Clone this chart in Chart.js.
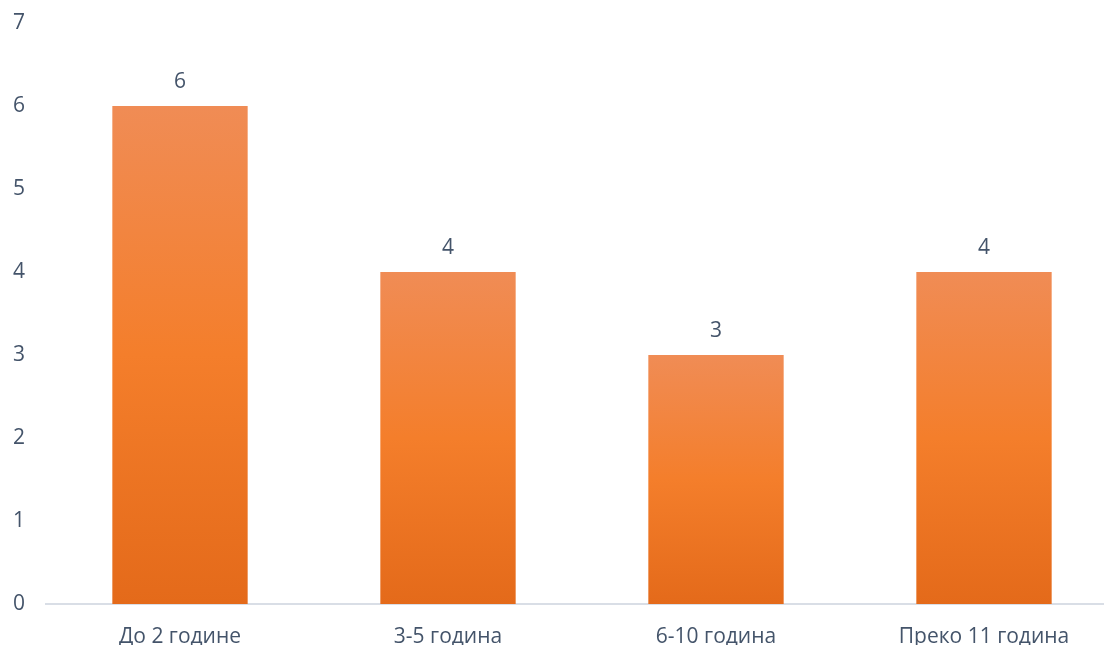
<!DOCTYPE html>
<html>
<head>
    <title>Радни стаж</title>
<script src="https://cdn.jsdelivr.net/npm/chart.js"></script>
<style>
    html, body { margin: 0; padding: 0; background: #fff; overflow: hidden; }
    #wrap { width: 1118px; height: 645px; }
</style>
</head>
<body>
    <div id="wrap"><canvas id="chart"></canvas></div>

    <script>
        const categories = ['До 2 године', '3-5 година', '6-10 година', 'Преко 11 година'];
        const values = [6, 4, 3, 4];
        const yTicks = [0, 1, 2, 3, 4, 5, 6, 7];

        const textColor = '#44546A';
        const fontFamily = '"Open Sans", "Noto Sans", sans-serif';

        // each bar gets its own top-to-bottom gradient
        function barFill(ctx) {
            const chart = ctx.chart;
            const y = chart.scales.y;
            if (!chart.chartArea || !y || ctx.type !== 'data') return '#F47E2B';
            const top = y.getPixelForValue(values[ctx.dataIndex]);
            const bottom = y.getPixelForValue(0);
            if (!isFinite(top) || !isFinite(bottom)) return '#F47E2B';
            const g = chart.ctx.createLinearGradient(0, top, 0, bottom);
            g.addColorStop(0, '#F08C55');
            g.addColorStop(0.5, '#F47E2B');
            g.addColorStop(1, '#E46A1A');
            return g;
        }

        // value labels above the bars
        const valueLabels = {
            id: 'valueLabels',
            afterDatasetsDraw(chart) {
                const c = chart.ctx;
                const meta = chart.getDatasetMeta(0);
                c.save();
                c.font = '21px ' + fontFamily;
                c.fillStyle = textColor;
                c.textAlign = 'center';
                c.textBaseline = 'middle';
                meta.data.forEach((bar, i) => {
                    c.fillText(String(values[i]), bar.x, bar.y - 24);
                });
                c.restore();
            }
        };

        new Chart(document.getElementById('chart'), {
            type: 'bar',
            data: {
                labels: categories,
                datasets: [{
                    data: values,
                    backgroundColor: barFill,
                    barPercentage: 1,
                    categoryPercentage: 0.505
                }]
            },
            options: {
                responsive: true,
                maintainAspectRatio: false,
                animation: false,
                layout: { padding: { top: 23, right: 0, bottom: 0, left: 0 } },
                plugins: {
                    legend: { display: false },
                    tooltip: { enabled: false }
                },
                scales: {
                    x: {
                        afterFit: s => { s.height = 41; },
                        grid: { display: false },
                        border: { display: true, color: '#D9DEE6', width: 2 },
                        ticks: {
                            color: textColor,
                            font: { family: fontFamily, size: 21 },
                            padding: 12
                        }
                    },
                    y: {
                        min: 0,
                        max: 7,
                        afterBuildTicks: s => { s.ticks = yTicks.map(v => ({ value: v })); },
                        afterFit: s => { s.width = 46; s.paddingTop = 0; s.paddingBottom = 0; },
                        grid: { display: false },
                        border: { display: false },
                        ticks: {
                            color: textColor,
                            font: { family: fontFamily, size: 21 },
                            padding: 13
                        }
                    }
                }
            },
            plugins: [valueLabels]
        });
    </script>
</body>
</html>
